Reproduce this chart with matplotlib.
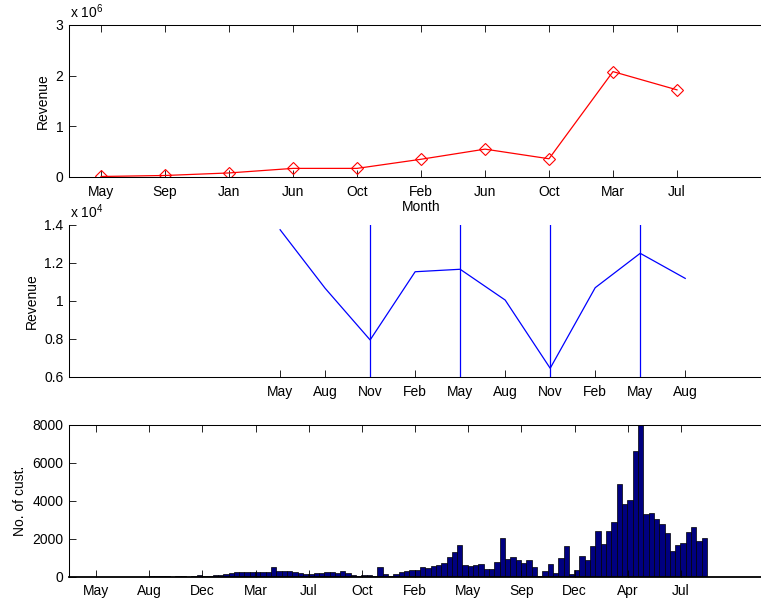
import matplotlib
matplotlib.use('Agg')
import matplotlib.pyplot as plt

plt.rcParams['font.family'] = ['Liberation Sans', 'DejaVu Sans']
plt.rcParams['font.size'] = 10

# 上图：季度收入 (x 10^6)
top_labels = ['May', 'Sep', 'Jan', 'Jun', 'Oct', 'Feb', 'Jun', 'Oct', 'Mar', 'Jul']
top_revenue = [0.01, 0.03, 0.08, 0.17, 0.17, 0.35, 0.55, 0.36, 2.08, 1.72]

# 中图：收入 (x 10^4)
mid_labels = ['May', 'Aug', 'Nov', 'Feb', 'May', 'Aug', 'Nov', 'Feb', 'May', 'Aug']
mid_revenue = [1.375, 1.067, 0.795, 1.154, 1.167, 1.005, 0.646, 1.07, 1.251, 1.119]
mid_vlines = [2, 4, 6, 8]

# 下图：客户数量
bot_labels = ['May', 'Aug', 'Dec', 'Mar', 'Jul', 'Oct', 'Feb', 'May', 'Sep', 'Dec', 'Apr', 'Jul']
bot_tick_pos = [4.6, 14.6, 24.6, 34.6, 44.6, 54.6, 64.6, 74.6, 84.6, 94.6, 104.6, 114.6]
customers = [0, 0, 2, 0, 3, 0, 5, 0, 4, 6, 3, 5, 2, 8, 5,
             45, 30, 35, 20, 10, 15, 30,
             10, 20, 88, 20, 20, 70, 105, 141,
             176, 229, 229, 246, 229, 246, 264, 264, 492, 316,
             299, 281, 246, 176, 158, 158, 176, 211,
             230, 240, 180, 290, 220, 90, 60, 70, 88, 60,
             492,
             158, 30, 141, 246, 281, 334, 352, 492, 475, 580, 598, 738, 1020, 1318,
             1670, 598, 545, 633, 686, 387, 422, 773,
             2057,
             914, 1037, 861, 721, 897, 527, 30, 299, 668, 176, 984, 1617, 123, 334,
             1090, 879, 1617, 2426, 1705, 2426, 2866, 4887, 3815, 4043, 6628,
             8000,
             3287, 3375, 3041, 2760, 2285, 1354, 1688, 1776, 2356, 2619, 1899, 2039]

W, H = 761, 605
fig = plt.figure(figsize=(W / 100, H / 100), dpi=100)

left = 69 / W
width = 704 / W
height = 152 / H


def style_axes(ax, top=True):
    for s in ['left', 'bottom', 'top']:
        ax.spines[s].set_linewidth(0.75)
    ax.spines['right'].set_visible(False)
    ax.spines['top'].set_visible(top)
    ax.tick_params(direction='in', length=5, width=0.6, top=top, right=False)
    ax.tick_params(axis='x', pad=5.5)
    ax.tick_params(axis='y', pad=4)


def exponent_label(ax, exp):
    ax.annotate('x 10$^{\\mathregular{%d}}$' % exp, xy=(0, 1), xycoords='axes fraction',
                xytext=(0.5, 5), textcoords='offset points', ha='left', va='baseline',
                fontsize=10, annotation_clip=False)


# 上图
ax1 = fig.add_axes([left, 1 - 177 / H, width, height])
x_top = list(range(1, len(top_revenue) + 1))
ax1.plot(x_top, top_revenue, color='#ff0000', linewidth=0.9, marker='D',
         markersize=6.3, markerfacecolor='none', markeredgecolor='#ff0000', markeredgewidth=0.8)
ax1.set_xlim(0.5, 11.5)
ax1.set_ylim(0, 3)
ax1.set_xticks(x_top)
ax1.set_xticklabels(top_labels)
ax1.set_yticks([0, 1, 2, 3])
ax1.set_ylabel('Revenue')
ax1.set_xlabel('Month', labelpad=1)
style_axes(ax1)
exponent_label(ax1, 6)

# 中图
ax2 = fig.add_axes([left, 1 - 377 / H, width, height])
x_mid = list(range(len(mid_revenue)))
ax2.plot(x_mid, mid_revenue, color='#0000ff', linewidth=0.9)
for v in mid_vlines:
    ax2.axvline(v, color='#0000ff', linewidth=0.9)
ax2.set_xlim(-4.69, 10.95)
ax2.set_ylim(0.6, 1.4)
ax2.set_xticks(x_mid)
ax2.set_xticklabels(mid_labels)
ax2.set_yticks([0.6, 0.8, 1.0, 1.2, 1.4])
ax2.set_yticklabels(['0.6', '0.8', '1', '1.2', '1.4'])
ax2.set_ylabel('Revenue')
style_axes(ax2, top=False)
exponent_label(ax2, 4)

# 下图
ax3 = fig.add_axes([left, 1 - 576.7 / H, width, height])
x_bot = list(range(len(customers)))
ax3.bar(x_bot, customers, width=1.0, color='#000080', edgecolor='black', linewidth=0.5)
ax3.set_xlim(-0.5, 131.9)
ax3.set_ylim(0, 8000)
ax3.set_xticks(bot_tick_pos)
ax3.set_xticklabels(bot_labels)
ax3.set_yticks([0, 2000, 4000, 6000, 8000])
ax3.set_ylabel('No. of cust.')
style_axes(ax3)
ax3.spines['bottom'].set_linewidth(1.3)

fig.savefig('out.png', dpi=100)
